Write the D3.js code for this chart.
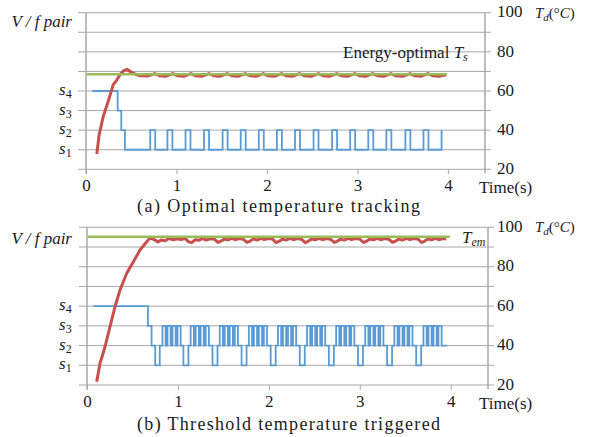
<!DOCTYPE html>
<html>
<head>
<meta charset="utf-8">
<script src="https://cdn.jsdelivr.net/npm/d3@7"></script>
<style>
body { margin: 0; background: #fff; }
svg { display: block; }
svg text { font-family: 'Liberation Serif', 'Tinos', 'DejaVu Serif', 'Noto Serif', serif; fill: #1a1a1a; }
</style>
</head>
<body>
<div id="chart"></div>
<script>
// ---- data ----
const xTicks = [0, 1, 2, 3, 4];
const tempTicks = [20, 40, 60, 80, 100];
const gridVals = [20, 30, 40, 50, 60, 70, 80, 90, 100];
const stateNames = ["1", "2", "3", "4"];
const stateTemps = [30, 40, 50, 60];

// (a) optimal temperature tracking
const greenA = [[0.01, 68.6], [3.99, 68.6]];
const blueA = [
  [0.07, 60], [0.35, 50], [0.39, 40], [0.43, 30],
  [0.71, 40], [0.765, 30], [0.90, 40], [0.955, 30], [1.10, 40], [1.155, 30],
  [1.305, 40], [1.36, 30], [1.51, 40], [1.565, 30], [1.71, 40], [1.765, 30],
  [1.91, 40], [1.965, 30], [2.11, 40], [2.165, 30], [2.31, 40], [2.365, 30],
  [2.515, 40], [2.57, 30], [2.72, 40], [2.775, 30], [2.92, 40], [2.975, 30],
  [3.12, 40], [3.175, 30], [3.32, 40], [3.375, 30], [3.53, 40], [3.585, 30],
  [3.73, 40], [3.785, 30], [3.93, 40]
];
const redA = [
  [0.12, 27.8], [0.145, 37.5], [0.19, 46.9], [0.25, 55.4], [0.30, 63.1],
  [0.34, 65.6], [0.38, 68.7], [0.42, 70.4], [0.45, 71.1], [0.49, 69.9],
  [0.54, 68.7], [0.60, 67.8], [0.68, 67.6], [0.76, 68.9], [0.81, 67.8],
  [0.88, 67.5], [0.96, 68.9], [1.01, 67.8], [1.08, 67.5], [1.16, 68.9],
  [1.21, 67.8], [1.28, 67.5], [1.36, 68.9], [1.41, 67.8], [1.48, 67.5],
  [1.56, 68.9], [1.61, 67.8], [1.68, 67.5], [1.76, 68.9], [1.81, 67.8],
  [1.88, 67.5], [1.96, 68.9], [2.01, 67.8], [2.08, 67.5], [2.16, 68.9],
  [2.21, 67.8], [2.28, 67.5], [2.36, 68.9], [2.41, 67.8], [2.49, 67.5],
  [2.57, 68.9], [2.62, 67.8], [2.69, 67.5], [2.77, 68.9], [2.82, 67.8],
  [2.89, 67.5], [2.97, 68.9], [3.02, 67.8], [3.09, 67.5], [3.17, 68.9],
  [3.22, 67.8], [3.29, 67.5], [3.37, 68.9], [3.42, 67.8], [3.50, 67.5],
  [3.58, 68.9], [3.63, 67.8], [3.70, 67.5], [3.78, 68.9], [3.83, 67.8],
  [3.90, 67.5], [3.98, 68.3]
];

// (b) threshold temperature triggered
const greenB = [[0.01, 95.2], [3.99, 95.2]];
const blueB = [
  [0.07, 60], [0.67, 50], [0.71, 40],
  [0.75, 30], [0.80, 40], [0.83, 50], [0.865, 40], [0.885, 50], [0.92, 40], [0.94, 50], [0.975, 40], [0.995, 50], [1.03, 40],
  [1.06, 30], [1.115, 40], [1.14, 50], [1.175, 40], [1.195, 50], [1.23, 40], [1.25, 50], [1.285, 40], [1.305, 50], [1.34, 40],
  [1.38, 30], [1.435, 40], [1.46, 50], [1.495, 40], [1.515, 50], [1.55, 40], [1.57, 50], [1.605, 40], [1.625, 50], [1.66, 40],
  [1.70, 30], [1.755, 40], [1.78, 50], [1.815, 40], [1.835, 50], [1.87, 40], [1.89, 50], [1.925, 40], [1.945, 50], [1.98, 40],
  [2.02, 30], [2.075, 40], [2.10, 50], [2.135, 40], [2.155, 50], [2.19, 40], [2.21, 50], [2.245, 40], [2.265, 50], [2.30, 40],
  [2.34, 30], [2.395, 40], [2.42, 50], [2.455, 40], [2.475, 50], [2.51, 40], [2.53, 50], [2.565, 40], [2.585, 50], [2.62, 40],
  [2.66, 30], [2.715, 40], [2.74, 50], [2.775, 40], [2.795, 50], [2.83, 40], [2.85, 50], [2.885, 40], [2.905, 50], [2.94, 40],
  [2.98, 30], [3.035, 40], [3.06, 50], [3.095, 40], [3.115, 50], [3.15, 40], [3.17, 50], [3.205, 40], [3.225, 50], [3.26, 40],
  [3.30, 30], [3.355, 40], [3.38, 50], [3.415, 40], [3.435, 50], [3.47, 40], [3.49, 50], [3.525, 40], [3.545, 50], [3.58, 40],
  [3.62, 30], [3.675, 40], [3.70, 50], [3.735, 40], [3.755, 50], [3.79, 40], [3.81, 50], [3.845, 40], [3.865, 50], [3.90, 40],
  [3.96, 40]
];
const redB = [
  [0.107, 21.7], [0.143, 31.0], [0.17, 35.0], [0.198, 39.4], [0.253, 49.6],
  [0.308, 59.7], [0.363, 68.2], [0.437, 76.7], [0.51, 82.5], [0.583, 88.5],
  [0.657, 92.7], [0.69, 94.4], [0.73, 94.0], [0.78, 92.6], [0.82, 93.6],
  [0.86, 93.2], [0.90, 94.3], [0.95, 93.6], [0.99, 94.2], [1.03, 93.8],
  [1.08, 94.3], [1.12, 92.6], [1.15, 92.2], [1.19, 93.7], [1.23, 93.4],
  [1.27, 94.4], [1.31, 93.5], [1.35, 94.2], [1.40, 94.0], [1.44, 92.4],
  [1.47, 92.9], [1.51, 94.0], [1.55, 93.6], [1.59, 94.4], [1.63, 93.7],
  [1.67, 94.3], [1.72, 93.9], [1.76, 92.3], [1.79, 92.9], [1.83, 94.1],
  [1.87, 93.5], [1.91, 94.4], [1.95, 93.8], [1.99, 94.3], [2.04, 94.0],
  [2.08, 92.2], [2.11, 92.8], [2.15, 94.0], [2.19, 93.5], [2.23, 94.4],
  [2.27, 93.7], [2.31, 94.3], [2.36, 93.9], [2.40, 92.2], [2.43, 92.9],
  [2.47, 94.1], [2.51, 93.6], [2.55, 94.4], [2.59, 93.7], [2.63, 94.3],
  [2.68, 93.9], [2.72, 92.3], [2.75, 92.9], [2.79, 94.0], [2.83, 93.5],
  [2.87, 94.4], [2.91, 93.8], [2.95, 94.3], [3.00, 94.0], [3.04, 92.3],
  [3.07, 92.8], [3.11, 94.1], [3.15, 93.6], [3.19, 94.4], [3.23, 93.7],
  [3.27, 94.3], [3.32, 93.9], [3.36, 92.4], [3.39, 92.9], [3.43, 94.0],
  [3.47, 93.5], [3.51, 94.4], [3.55, 93.8], [3.59, 94.3], [3.64, 94.0],
  [3.68, 92.3], [3.71, 92.9], [3.75, 94.1], [3.79, 93.6], [3.83, 94.4],
  [3.87, 93.7], [3.91, 94.3], [3.95, 94.0]
];

const serif = "'Liberation Serif', 'Tinos', 'DejaVu Serif', 'Noto Serif', serif";

const svg = d3.select('#chart').append('svg')
  .attr('width', 600)
  .attr('height', 437)
  .attr('font-family', serif);
svg.append('rect').attr('width', 600).attr('height', 437).attr('fill', '#fff');

const gridColor = '#a8a8a8';

function drawPanel(o) {
  const g = svg.append('g').attr('font-family', serif);
  const x = d3.scaleLinear().domain([0, 4.41]).range([o.x0, o.x1]);
  const y = d3.scaleLinear().domain([20, 100]).range([o.yb, o.yt]);

  // gridlines (they also make the little ticks on both sides)
  g.selectAll('line.grid').data(gridVals).join('line')
    .attr('x1', o.x0 - 8).attr('x2', o.x1 + 6)
    .attr('y1', d => y(d)).attr('y2', d => y(d))
    .attr('stroke', gridColor).attr('stroke-width', 1);

  // left and right axis lines
  g.append('line').attr('x1', o.x0).attr('x2', o.x0).attr('y1', y(100)).attr('y2', y(20) + 4)
    .attr('stroke', gridColor).attr('stroke-width', 1.5);
  g.append('line').attr('x1', o.x1).attr('x2', o.x1).attr('y1', y(100)).attr('y2', y(20) + 4)
    .attr('stroke', gridColor).attr('stroke-width', 1.5);

  // bottom axis
  const xAxis = g.append('g')
    .attr('transform', 'translate(0,' + o.yb + ')')
    .call(d3.axisBottom(x).tickValues(xTicks).tickSize(5).tickPadding(5).tickFormat(d3.format('d')));
  xAxis.attr('font-family', serif).attr('font-size', 17);
  xAxis.select('.domain').remove();
  xAxis.selectAll('line').attr('stroke', gridColor);
  xAxis.selectAll('text').attr('fill', '#1a1a1a');

  // right temperature labels
  g.selectAll('text.tl').data(tempTicks).join('text')
    .attr('x', o.x1 + o.labelGap).attr('y', d => y(d)).attr('dy', '0.28em')
    .attr('font-size', 17).text(d => d);

  // T_d (°C)
  const td = g.append('text').attr('x', 535).attr('y', y(100) + 5).attr('font-size', 15);
  td.append('tspan').attr('font-style', 'italic').text('T');
  td.append('tspan').attr('font-style', 'italic').attr('font-size', 11).attr('dy', 3).text('d');
  td.append('tspan').attr('dy', -3).text('(°');
  td.append('tspan').attr('font-style', 'italic').text('C');
  td.append('tspan').text(')');

  // Time(s)
  g.append('text').attr('x', 479).attr('y', o.yb + 18).attr('dy', '0.35em')
    .attr('font-size', 17).text('Time(s)');

  // state labels s1..s4
  stateTemps.forEach((v, i) => {
    const t = g.append('text').attr('x', 59).attr('y', y(v) + 4).attr('font-size', 17);
    t.append('tspan').attr('font-style', 'italic').text('s');
    t.append('tspan').attr('font-size', 12).attr('dy', 3).text(stateNames[i]);
  });

  // V / f pair
  g.append('text').attr('x', 72).attr('y', o.vfY).attr('text-anchor', 'end')
    .attr('font-size', 17).attr('font-style', 'italic').text('V / f pair');

  // series
  const line = d3.line().x(d => x(d[0])).y(d => y(d[1]));
  const step = d3.line().x(d => x(d[0])).y(d => y(d[1])).curve(d3.curveStepAfter);

  g.append('path').datum(o.blue).attr('d', step)
    .attr('fill', 'none').attr('stroke', '#5b9bd5').attr('stroke-width', 1.8);
  g.append('path').datum(o.red).attr('d', line)
    .attr('fill', 'none').attr('stroke', '#c8504c').attr('stroke-width', 3)
    .attr('stroke-linejoin', 'round');
  g.append('path').datum(o.green).attr('d', line)
    .attr('fill', 'none').attr('stroke', '#9bbb59').attr('stroke-width', 2.5);

  // caption
  g.append('text').attr('x', 137).attr('y', o.capY).attr('font-size', 18)
    .attr('textLength', o.capLen).attr('lengthAdjust', 'spacing')
    .text(o.caption);

  return { g, x, y };
}

const pa = drawPanel({
  x0: 86, x1: 485, yt: 12.7, yb: 169.3, labelGap: 12, vfY: 27, capY: 212, capLen: 283,
  blue: blueA, red: redA, green: greenA,
  caption: '(a)  Optimal temperature tracking'
});
const ts = pa.g.append('text').attr('x', 343).attr('y', 58).attr('font-size', 17);
ts.append('tspan').text('Energy-optimal ');
ts.append('tspan').attr('font-style', 'italic').text('T');
ts.append('tspan').attr('font-style', 'italic').attr('font-size', 12).attr('dy', 3).text('s');

const pb = drawPanel({
  x0: 87, x1: 488, yt: 227.3, yb: 385, labelGap: 9, vfY: 244, capY: 430, capLen: 303,
  blue: blueB, red: redB, green: greenB,
  caption: '(b)  Threshold temperature triggered'
});
const tem = pb.g.append('text').attr('x', 462).attr('y', 243).attr('font-size', 17);
tem.append('tspan').attr('font-style', 'italic').text('T');
tem.append('tspan').attr('font-style', 'italic').attr('font-size', 12).attr('dy', 3).text('em');
</script>
</body>
</html>
